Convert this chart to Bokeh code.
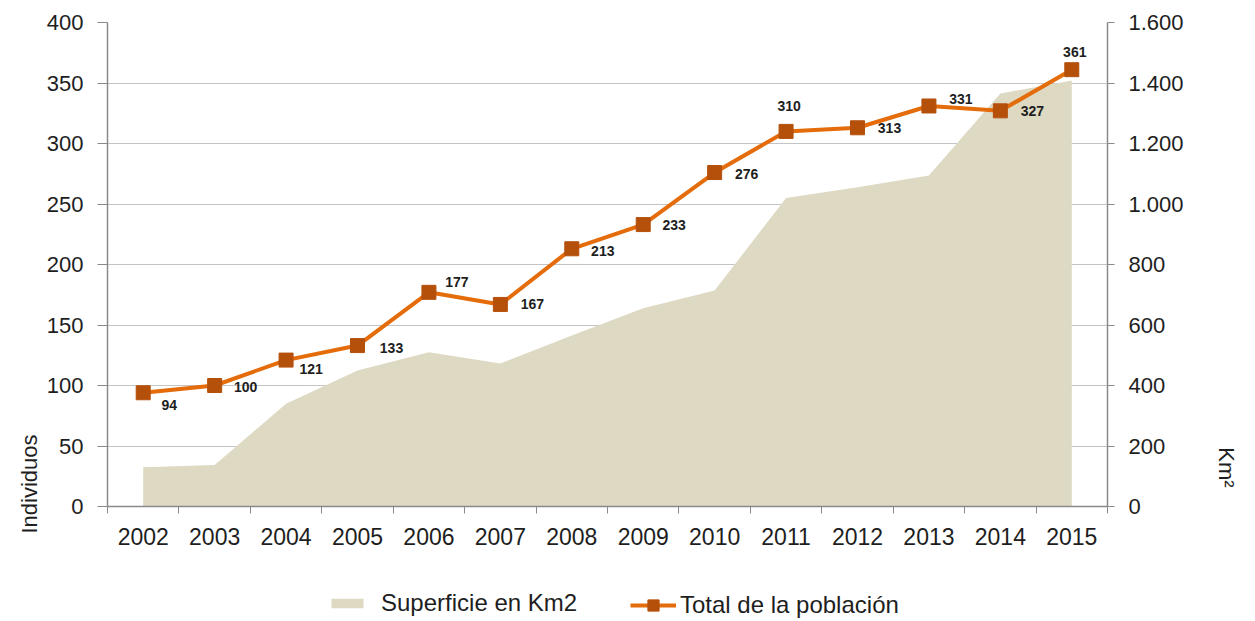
import math
from bokeh.plotting import figure
from bokeh.layouts import column
from bokeh.models import (ColumnDataSource, Range1d, LinearAxis, FixedTicker,
                          Legend, LegendItem)
from bokeh.core.properties import value
from bokeh.embed import file_html
from bokeh.resources import INLINE

# ---- data ----
years = [2002, 2003, 2004, 2005, 2006, 2007, 2008, 2009, 2010, 2011, 2012, 2013, 2014, 2015]
poblacion = [94, 100, 121, 133, 177, 167, 213, 233, 276, 310, 313, 331, 327, 361]
superficie = [130, 137, 340, 450, 510, 473, 565, 655, 714, 1020, 1055, 1094, 1365, 1408]
left_ticks = [0, 50, 100, 150, 200, 250, 300, 350, 400]
right_ticks = [0, 200, 400, 600, 800, 1000, 1200, 1400, 1600]
right_tick_labels = ["0", "200", "400", "600", "800", "1.000", "1.200", "1.400", "1.600"]
left_title = "Individuos"
right_title = "Km²"
series_names = ["Superficie en Km2", "Total de la población"]

# label offsets (screen px, style only)
label_dx = [26, 31, 25, 34, 28, 32, 31, 31, 32, 3, 32, 32, 32, 3]
label_dy = [12, 1, 9, 2, -10, 0, 2, 0, 1, -25, 0, -7, 0, -18]

FONT = "Liberation Sans"
AREA_COLOR = "#DDD9C3"
LINE_COLOR = "#E46C0A"
MARK_COLOR = "#B5500B"
TEXT_COLOR = "#1e1e1e"
AXIS_COLOR = "#8a8a8a"
GRID_COLOR = "#c4c4c4"

src = ColumnDataSource(dict(
    x=years, pop=poblacion, area=superficie, zero=[0] * len(years),
    lbl=[str(v) for v in poblacion], dx=label_dx, dy=label_dy,
))

p = figure(width=1255, height=566, output_backend="svg", toolbar_location=None,
           x_range=Range1d(years[0] - 0.5, years[-1] + 0.5),
           y_range=Range1d(0, 400),
           min_border_left=107, min_border_right=148, min_border_top=22, min_border_bottom=60)
p.outline_line_color = None
p.background_fill_color = "white"
p.extra_y_ranges = {"km2": Range1d(0, 1600)}

# area (right axis)
p.varea(x="x", y1="zero", y2="area", source=src, fill_color=AREA_COLOR, y_range_name="km2")
# line + markers
p.line(x="x", y="pop", source=src, line_color=LINE_COLOR, line_width=4)
p.scatter(x="x", y="pop", source=src, marker="square", size=14,
          fill_color=MARK_COLOR, line_color=MARK_COLOR)
# data labels
p.text(x="x", y="pop", text="lbl", source=src, x_offset="dx", y_offset="dy",
       text_font=value(FONT), text_font_style="bold", text_font_size="14px",
       text_color=TEXT_COLOR, text_align="center", text_baseline="middle")


def style_axis(ax, tick_out, size="22px"):
    ax.major_tick_out = tick_out
    ax.major_tick_in = 0
    ax.minor_tick_out = 0
    ax.minor_tick_in = 0
    ax.major_tick_line_color = AXIS_COLOR
    ax.axis_line_color = AXIS_COLOR
    ax.axis_line_width = 1.5
    ax.major_label_standoff = 14
    ax.major_label_text_font = FONT
    ax.major_label_text_font_size = size
    ax.major_label_text_color = TEXT_COLOR


# x axis: labels at years, tick marks between categories
xa = p.xaxis[0]
style_axis(xa, 0, "23px")
xa.ticker = FixedTicker(ticks=years, minor_ticks=[y - 0.5 for y in years] + [years[-1] + 0.5])
xa.major_label_overrides = {y: str(y) for y in years}
xa.minor_tick_out = 7
xa.minor_tick_line_color = AXIS_COLOR

ya = p.yaxis[0]
style_axis(ya, 10)
ya.ticker = FixedTicker(ticks=left_ticks)

yr = LinearAxis(y_range_name="km2")
style_axis(yr, 7)
yr.ticker = FixedTicker(ticks=right_ticks)
yr.major_label_overrides = {t: s for t, s in zip(right_ticks, right_tick_labels)}
p.add_layout(yr, "right")

# axis titles, placed low on the sides like the original
t_left = LinearAxis(ticker=FixedTicker(ticks=[59.5]), major_label_overrides={59.5: left_title})
t_left.axis_line_color = None
t_left.major_tick_line_color = None
t_left.minor_tick_line_color = None
t_left.major_label_orientation = math.pi / 2
t_left.major_label_standoff = 8
t_left.major_label_text_font = FONT
t_left.major_label_text_font_size = "22px"
t_left.major_label_text_color = TEXT_COLOR
p.add_layout(t_left, "left")

t_right = LinearAxis(ticker=FixedTicker(ticks=[49]), major_label_overrides={49: right_title})
t_right.axis_line_color = None
t_right.major_tick_line_color = None
t_right.minor_tick_line_color = None
t_right.major_label_orientation = -math.pi / 2
t_right.major_label_standoff = 34
t_right.major_label_text_font = FONT
t_right.major_label_text_font_size = "22px"
t_right.major_label_text_color = TEXT_COLOR
p.add_layout(t_right, "right")

p.xgrid.visible = False
p.ygrid.ticker = FixedTicker(ticks=left_ticks)
p.ygrid.grid_line_color = GRID_COLOR
p.ygrid.grid_line_width = 1.2

# ---- legend strip below the chart (swatch renderers sit outside the visible range) ----
lg = figure(width=1255, height=55, output_backend="svg", toolbar_location=None,
            x_range=Range1d(0, 1), y_range=Range1d(0, 1),
            x_axis_location=None, y_axis_location=None,
            min_border_left=0, min_border_right=0, min_border_top=0, min_border_bottom=0)
lg.outline_line_color = None
lg.xgrid.visible = False
lg.ygrid.visible = False
swatch = ColumnDataSource(dict(x=[-5, -4], y=[-5, -5], y0=[-6, -6]))
la = lg.varea(x="x", y1="y0", y2="y", source=swatch, fill_color=AREA_COLOR)
ll = lg.line(x="x", y="y", source=swatch, line_color=LINE_COLOR, line_width=4)
lp = lg.scatter(x="x", y="y", source=swatch, marker="square", size=14,
                fill_color=MARK_COLOR, line_color=MARK_COLOR)

common = dict(orientation="horizontal", label_text_font=FONT, label_text_font_size="24px",
              label_text_color=TEXT_COLOR, border_line_color=None,
              background_fill_alpha=0, padding=6, margin=0)
legend1 = Legend(items=[LegendItem(label=series_names[0], renderers=[la])],
                 location=(220, 4), glyph_width=40, glyph_height=12, label_standoff=14,
                 **common)
legend2 = Legend(items=[LegendItem(label=series_names[1], renderers=[ll, lp])],
                 location=(523, 2), glyph_width=46, glyph_height=28, label_standoff=4,
                 **common)
lg.add_layout(legend1, "center")
lg.add_layout(legend2, "center")

open("out.html", "w").write(file_html(column(p, lg, spacing=0), INLINE))
